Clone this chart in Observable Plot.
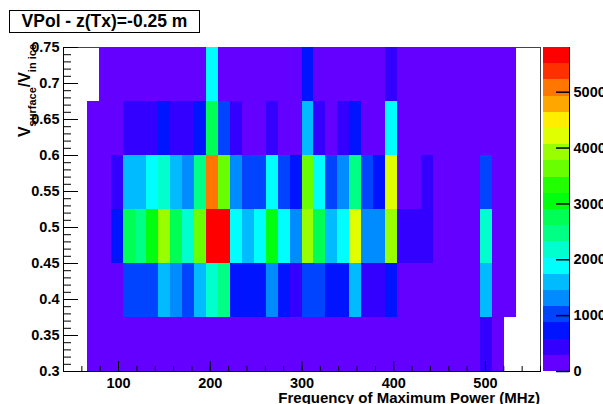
<!DOCTYPE html>
<html>
<head>
<meta charset="utf-8">
<script src="https://cdn.jsdelivr.net/npm/d3@7"></script>
<script src="https://cdn.jsdelivr.net/npm/@observablehq/plot@0.6"></script>
<style>
  body { margin: 0; background: #fff; }
  #chart { position: relative; width: 603px; height: 404px; overflow: hidden;
           font-family: "Liberation Sans", Arial, sans-serif; font-weight: bold; }
  #chart svg { position: absolute; top: 0; }
  #title { position: absolute; z-index: 2; left: 9px; top: 10px; width: 189px; height: 21px;
           border: 1px solid #000; background: #fff; font-size: 17.5px; line-height: 21px;
           text-align: center; color: #000; }
</style>
</head>
<body>
<div id="chart"><div id="title">VPol - z(Tx)=-0.25 m</div></div>
<script>
// Histogram binning: 40 frequency bins of 13 MHz starting at 40 MHz,
// 6 bins in the voltage ratio from 0.3 to 0.75.
const freqLow = 40;
const freqWidth = 13;
const ratioEdges = [0.3, 0.375, 0.45, 0.525, 0.6, 0.675, 0.75];

// Bin contents per ratio row (bottom row first), one entry per frequency bin.
const row0 = [0,0,120,120,120,120,120,120,120,120,120,120,120,120,120,120,120,120,120,120,120,120,120,120,120,120,120,120,120,120,120,120,120,120,120,430,120,0,0,0];
const row1 = [0,0,120,120,120,1010,1010,1010,1600,1300,1010,1600,2170,2460,720,720,720,1300,720,430,1010,1010,720,720,1600,430,430,720,120,120,120,120,120,120,120,1600,120,120,0,0];
const row2 = [0,0,120,120,720,2750,2460,3050,3910,2750,2170,3620,5800,5650,1880,1600,1880,3050,1880,1300,3910,2750,1600,1880,4200,1300,1300,3910,430,430,430,120,120,120,120,2170,120,120,0,0];
const row3 = [0,0,120,120,430,1600,1600,1880,2170,1600,1300,2460,5080,3620,1300,1010,1010,1880,1010,720,3620,1880,1010,1300,2460,1010,720,4200,120,120,430,120,120,120,120,1010,120,120,0,0];
const row4 = [0,0,120,120,120,430,430,430,720,430,430,720,2750,1010,430,120,120,430,120,120,1600,430,120,430,720,120,120,1880,120,120,120,120,120,120,120,120,120,120,0,0];
const row5 = [0,0,0,120,120,120,120,120,120,120,120,120,1880,120,120,120,120,120,120,120,720,120,120,120,120,120,120,430,120,120,120,120,120,120,120,120,120,120,0,0];
const rows = [row0, row1, row2, row3, row4, row5];

// Axis ticks
const xTicks = [100, 200, 300, 400, 500];
const yTicks = [0.3, 0.35, 0.4, 0.45, 0.5, 0.55, 0.6, 0.65, 0.7, 0.75];
const zTicks = [0, 1000, 2000, 3000, 4000, 5000];
const zMax = 5800;
const nLevels = 20;

// Rainbow palette (violet -> red in HLS hue), sampled at 20 contour levels
const pretty = d3.range(50).map(i => d3.hsl(280 - (i + 1) * 5.6, 1, 0.5).formatHex());
const palette = d3.range(nLevels).map(k => pretty[Math.floor((k + 0.99) * 50 / nLevels)]);
const colorScale = {type: "quantize", domain: [0, zMax], range: palette};

// Non-empty cells
const cells = [];
rows.forEach((counts, j) => counts.forEach((c, i) => {
  if (c > 0) cells.push({
    f0: freqLow + i * freqWidth, f1: freqLow + (i + 1) * freqWidth,
    r0: ratioEdges[j], r1: ratioEdges[j + 1], count: c
  });
}));

const font = {fontFamily: "'Liberation Sans', Arial, sans-serif", fontWeight: "bold",
              fontSize: "14.5px", color: "#000", background: "transparent"};
const plotW = 477, plotH = 324;

const main = Plot.plot({
  width: 603, height: 404,
  marginLeft: 63, marginRight: 63, marginTop: 47, marginBottom: 33,
  style: font,
  x: {domain: [freqLow, freqLow + 40 * freqWidth], label: null},
  y: {domain: [ratioEdges[0], ratioEdges[ratioEdges.length - 1]], label: null},
  color: colorScale,
  marks: [
    Plot.frame({stroke: "#444"}),
    Plot.rect(cells, {x1: "f0", x2: "f1", y1: "r0", y2: "r1", fill: "count", shapeRendering: "crispEdges"}),
    Plot.frame({anchor: "left", stroke: "#000"}),
    Plot.frame({anchor: "bottom", stroke: "#000"}),
    Plot.tickX(d3.range(60, 561, 20), {x: d => d, insetTop: plotH - 5, stroke: "#000"}),
    Plot.tickX(xTicks, {x: d => d, insetTop: plotH - 10, stroke: "#000"}),
    Plot.tickY(d3.range(30, 76).map(d => d / 100), {y: d => d, insetRight: plotW - 8, stroke: "#000"}),
    Plot.tickY(yTicks, {y: d => d, insetRight: plotW - 15, stroke: "#000"}),
    Plot.axisX(xTicks, {tickSize: 0, tickPadding: 6, tickFormat: d => String(d)}),
    Plot.axisY(yTicks, {tickSize: 0, tickPadding: 4, tickFormat: d => String(d)})
  ]
});

// Axis titles
const svg = d3.select(main);
svg.append("text")
  .attr("x", 540).attr("y", 403)
  .attr("text-anchor", "end").attr("font-size", 15).attr("fill", "#000")
  .text("Frequency of Maximum Power (MHz)");
const yt = svg.append("text")
  .attr("transform", "translate(30,44) rotate(-90)")
  .attr("text-anchor", "end").attr("font-size", 16).attr("fill", "#000");
yt.append("tspan").text("V");
yt.append("tspan").attr("font-size", 11).attr("dy", 6).text("surface");
yt.append("tspan").attr("dy", -6).text("/V");
yt.append("tspan").attr("font-size", 11).attr("dy", 6).text("in ice");

// Colour bar
const bands = d3.range(nLevels).map(k => ({
  lo: k * zMax / nLevels, hi: (k + 1) * zMax / nLevels, mid: (k + 0.5) * zMax / nLevels
}));
const bar = Plot.plot({
  width: 60, height: 404,
  marginLeft: 0, marginRight: 34, marginTop: 47, marginBottom: 33,
  style: font,
  y: {domain: [0, zMax], label: null},
  color: colorScale,
  marks: [
    Plot.rect(bands, {y1: "lo", y2: "hi", fill: "mid", shapeRendering: "crispEdges"}),
    Plot.tickY(zTicks, {y: d => d, insetLeft: 13, stroke: "#000", strokeWidth: 1.5}),
    Plot.frame({anchor: "right", stroke: "#000"}),
    Plot.axisY(zTicks, {anchor: "right", tickSize: 0, tickPadding: 4, tickFormat: d => String(d)})
  ]
});
bar.style.left = "543px";

const chart = document.getElementById("chart");
chart.insertBefore(bar, chart.firstChild);
chart.insertBefore(main, chart.firstChild);
</script>
</body>
</html>
